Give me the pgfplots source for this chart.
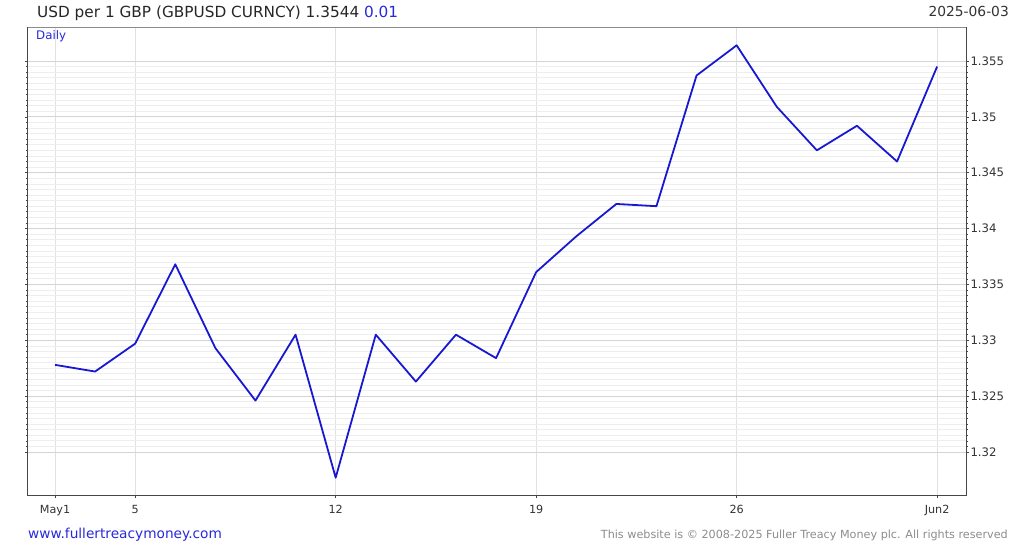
\documentclass[border=0pt]{standalone}
\usepackage{pgfplots}
\pgfplotsset{compat=1.18}
\usepackage{fontspec}
\setmainfont{DejaVu Sans}
\definecolor{lineblue}{RGB}{24,24,210}
\definecolor{txtblue}{RGB}{40,40,220}
\definecolor{majgrid}{RGB}{212,212,212}
\definecolor{mingrid}{RGB}{238,238,238}
\definecolor{vgrid}{RGB}{225,225,225}
\definecolor{axisgray}{RGB}{70,70,70}
\begin{document}
\begin{tikzpicture}[x=1pt,y=1pt]
\useasboundingbox (0,0) rectangle (1024,551);
\begin{axis}[
  at={(28pt,56pt)}, anchor=south west,
  width=938pt, height=467pt, scale only axis,
  xmin=-0.673, xmax=22.72,
  ymin=1.31615, ymax=1.35795,
  xtick={0,2,7,12,17,22},
  xticklabels={May1,5,12,19,26,Jun2},
  ytick={1.32,1.325,1.33,1.335,1.34,1.345,1.35,1.355},
  minor y tick num=9,
  yticklabel pos=right,
  xtick pos=bottom,
  tick align=outside,
  major tick length=3pt, minor tick length=1.5pt,
  every tick/.style={axisgray, line width=0.6pt},
  xmajorgrids, ymajorgrids, yminorgrids,
  x grid style={vgrid, line width=0.8pt},
  major grid style={majgrid, line width=0.9pt},
  minor grid style={mingrid, line width=0.7pt},
  axis line style={axisgray, line width=1pt},
  tick label style={font=\fontsize{11.7}{13}\selectfont, text=black!80},
  /pgf/number format/assume math mode=true,
  yticklabel style={/pgf/number format/fixed, /pgf/number format/precision=3, xshift=-2pt},
  xticklabel style={yshift=-4pt, font=\fontsize{11.2}{13}\selectfont},
  clip=true,
]
\addplot[lineblue, line width=1.8pt, line join=round] coordinates {
(0,1.3278) (1,1.3272) (2,1.3297) (3,1.3368) (4,1.3293) (5,1.3246)
(6,1.3305) (7,1.3177) (8,1.3305) (9,1.3263) (10,1.3305) (11,1.3284)
(12,1.3361) (13,1.3393) (14,1.3422) (15,1.3420) (16,1.3537) (17,1.3564)
(18,1.3509) (19,1.3470) (20,1.3492) (21,1.3460) (22,1.3545)
};
\end{axis}
\draw[white!55!black, line width=1pt] (28,523) -- (966,523);
\node[anchor=base west, inner sep=0pt, font=\fontsize{15.3}{17}\selectfont, text=black!85] at (37,533) {USD per 1 GBP (GBPUSD CURNCY) 1.3544 \textcolor{txtblue}{0.01}};
\node[anchor=base east, inner sep=0pt, font=\fontsize{13.8}{15}\selectfont, text=black!80] at (1009,534) {2025-06-03};
\node[anchor=base west, inner sep=0pt, font=\fontsize{11.8}{13}\selectfont, text=txtblue] at (36,511) {Daily};
\node[anchor=base west, inner sep=0pt, font=\fontsize{13.7}{15}\selectfont, text=txtblue] at (28,13) {www.fullertreacymoney.com};
\node[anchor=base east, inner sep=0pt, font=\fontsize{11.2}{13}\selectfont, text=black!45] at (1008,13) {This website is © 2008-2025 Fuller Treacy Money plc. All rights reserved};
\end{tikzpicture}
\end{document}
